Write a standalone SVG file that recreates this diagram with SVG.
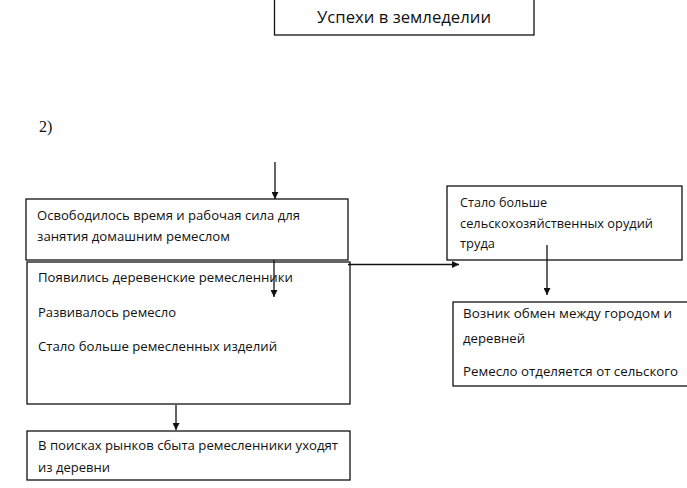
<svg xmlns="http://www.w3.org/2000/svg" width="687" height="488" viewBox="0 0 687 488">
<defs>
<style>
.box{fill:#fff;stroke:#111;stroke-width:1.3}
.t{font-family:"Open Sans","Liberation Sans",Arial,sans-serif;font-size:13px;fill:#111}
.title{font-family:"Open Sans","Liberation Sans",Arial,sans-serif;font-size:16px;fill:#111}
.num{font-family:"Liberation Serif","Times New Roman",serif;font-size:16px;fill:#111}
.c{stroke:#111;stroke-width:1.3;fill:none}
</style>
<marker id="ah" viewBox="0 0 10 10" refX="10" refY="5" markerWidth="7" markerHeight="7" markerUnits="userSpaceOnUse" orient="auto">
<path d="M0,0 L10,5 L0,10 z" fill="#111"/>
</marker>
</defs>
<rect width="687" height="488" fill="#fff"/>
<g id="title">
<rect class="box" x="274.5" y="-2" width="259.5" height="37"/>
<text class="title" x="317" y="23" textLength="174" lengthAdjust="spacingAndGlyphs">Успехи в земледелии</text>
</g>
<g id="label2">
<text class="num" x="39" y="132">2)</text>
</g>
<g id="nodeA">
<rect class="box" x="26" y="199" width="322" height="61"/>
<text class="t" x="37" y="220" textLength="263" lengthAdjust="spacingAndGlyphs">Освободилось время и рабочая сила для</text>
<text class="t" x="37" y="241" textLength="193" lengthAdjust="spacingAndGlyphs">занятия домашним ремеслом</text>
</g>
<g id="nodeB">
<rect class="box" x="27" y="262" width="323" height="142"/>
<text class="t" x="38" y="282" textLength="255" lengthAdjust="spacingAndGlyphs">Появились деревенские ремесленники</text>
<text class="t" x="38" y="317" textLength="138" lengthAdjust="spacingAndGlyphs">Развивалось ремесло</text>
<text class="t" x="38" y="351" textLength="239" lengthAdjust="spacingAndGlyphs">Стало больше ремесленных изделий</text>
</g>
<g id="nodeE">
<rect class="box" x="27" y="431" width="323" height="49"/>
<text class="t" x="38" y="450" textLength="300" lengthAdjust="spacingAndGlyphs">В поисках рынков сбыта ремесленники уходят</text>
<text class="t" x="38" y="472" textLength="72" lengthAdjust="spacingAndGlyphs">из деревни</text>
</g>
<g id="nodeC">
<rect class="box" x="447" y="186" width="235" height="74"/>
<text class="t" x="460" y="207" textLength="87" lengthAdjust="spacingAndGlyphs">Стало больше</text>
<text class="t" x="460" y="228" textLength="193" lengthAdjust="spacingAndGlyphs">сельскохозяйственных орудий</text>
<text class="t" x="460" y="248" textLength="35" lengthAdjust="spacingAndGlyphs">труда</text>
</g>
<g id="nodeD">
<rect class="box" x="453" y="302" width="240" height="84"/>
<text class="t" x="463" y="318" textLength="209" lengthAdjust="spacingAndGlyphs">Возник обмен между городом и</text>
<text class="t" x="463" y="343" textLength="62" lengthAdjust="spacingAndGlyphs">деревней</text>
<text class="t" x="463" y="376" textLength="215" lengthAdjust="spacingAndGlyphs">Ремесло отделяется от сельского</text>
</g>
<g id="connectors">
<line class="c" x1="275" y1="162" x2="275" y2="199" marker-end="url(#ah)"/>
<line class="c" x1="274" y1="260" x2="274" y2="297" marker-end="url(#ah)"/>
<line class="c" x1="348" y1="264.5" x2="459" y2="264.5" marker-end="url(#ah)"/>
<line class="c" x1="547" y1="245" x2="547" y2="295" marker-end="url(#ah)"/>
<line class="c" x1="176" y1="405" x2="176" y2="430" marker-end="url(#ah)"/>
</g>
</svg>
